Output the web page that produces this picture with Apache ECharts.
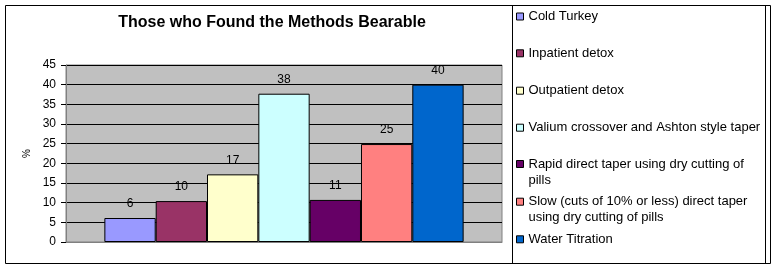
<!DOCTYPE html>
<html>
<head>
<meta charset="utf-8">
<script src="https://cdn.jsdelivr.net/npm/echarts@6/dist/echarts.min.js"></script>
<style>
html,body{margin:0;padding:0;background:#fff;}
#c{width:775px;height:268px;}
</style>
</head>
<body>
<div id="c"></div>
<script>
var title = 'Those who Found the Methods Bearable';
var seriesNames = [
  'Cold Turkey',
  'Inpatient detox',
  'Outpatient detox',
  'Valium crossover and Ashton style taper',
  'Rapid direct taper using dry cutting of pills',
  'Slow (cuts of 10% or less) direct taper using dry cutting of pills',
  'Water Titration'
];
var legendLabels = [
  'Cold Turkey',
  'Inpatient detox',
  'Outpatient detox',
  'Valium crossover and Ashton style taper',
  'Rapid direct taper using dry cutting of\npills',
  'Slow (cuts of 10% or less) direct taper\nusing dry cutting of pills',
  'Water Titration'
];
var values = [6.1, 10.4, 17.2, 37.7, 10.7, 24.9, 40.0];
var colors = ['#9999FF', '#993366', '#FFFFCC', '#CCFFFF', '#660066', '#FF8080', '#0066CC'];
var categories = [''];
var yTicks = [0, 5, 10, 15, 20, 25, 30, 35, 40, 45];
var yAxisName = '%';

var FONT = '"Liberation Sans", Arial, sans-serif';
var chart = echarts.init(document.getElementById('c'), null, {renderer: 'canvas'});

var series = seriesNames.map(function (n, i) {
  return {
    name: n,
    type: 'bar',
    data: [values[i]],
    barGap: '0%',
    barCategoryGap: '17.6%',
    itemStyle: {color: colors[i], borderColor: '#000', borderWidth: 1},
    label: {
      show: true, position: 'top', distance: 8,
      color: '#000', fontFamily: FONT, fontSize: 12,
      formatter: function (p) { return String(Math.round(p.value)); }
    }
  };
});

var legendCenters = [16.5, 53.3, 90.7, 127.7, 164, 201.7, 239.3];
var legends = seriesNames.map(function (n, i) {
  var two = legendLabels[i].indexOf('\n') >= 0;
  return {
    data: [n],
    left: 516,
    top: two ? legendCenters[i] - 24 : legendCenters[i] - 8,
    orient: 'vertical',
    padding: 0,
    itemWidth: 7,
    itemHeight: 7,
    itemGap: 0,
    icon: 'rect',
    itemStyle: {borderColor: '#000', borderWidth: 1},
    selectedMode: false,
    formatter: function () { return two ? ' \n' + legendLabels[i] : legendLabels[i]; },
    textStyle: {
      color: '#000', fontFamily: FONT, fontSize: 13, lineHeight: 16
    }
  };
});

chart.setOption({
  backgroundColor: '#fff',
  animation: false,
  title: {
    text: title,
    left: 272, top: 15, textAlign: 'center', padding: 0,
    textStyle: {fontFamily: FONT, fontSize: 16, fontWeight: 'bold', color: '#000'}
  },
  legend: legends,
  grid: {
    left: 66, top: 65, width: 436, height: 177,
    show: true, backgroundColor: '#C0C0C0', borderColor: '#808080', borderWidth: 1
  },
  xAxis: {
    type: 'category', data: categories,
    axisLine: {show: true, lineStyle: {color: '#808080'}},
    axisTick: {show: false}, axisLabel: {show: false}
  },
  yAxis: {
    type: 'value', min: yTicks[0], max: yTicks[yTicks.length - 1], interval: yTicks[1] - yTicks[0],
    name: yAxisName, nameLocation: 'middle', nameGap: 33, nameRotate: 90,
    nameTextStyle: {fontFamily: FONT, fontSize: 10, color: '#000'},
    axisLine: {show: true, lineStyle: {color: '#808080'}},
    axisTick: {show: true, length: 5, lineStyle: {color: '#000'}},
    axisLabel: {fontFamily: FONT, fontSize: 12, color: '#000', margin: 10},
    splitLine: {show: true, lineStyle: {color: '#000', width: 1}}
  },
  graphic: [
    {type: 'rect', shape: {x: 5.5, y: 5.5, width: 765, height: 258}, style: {fill: null, stroke: '#000', lineWidth: 1}, silent: true, z: -1},
    {type: 'rect', shape: {x: 512.5, y: 5.5, width: 253, height: 258}, style: {fill: null, stroke: '#000', lineWidth: 1}, silent: true, z: -1}
  ],
  series: series
});
</script>
</body>
</html>
